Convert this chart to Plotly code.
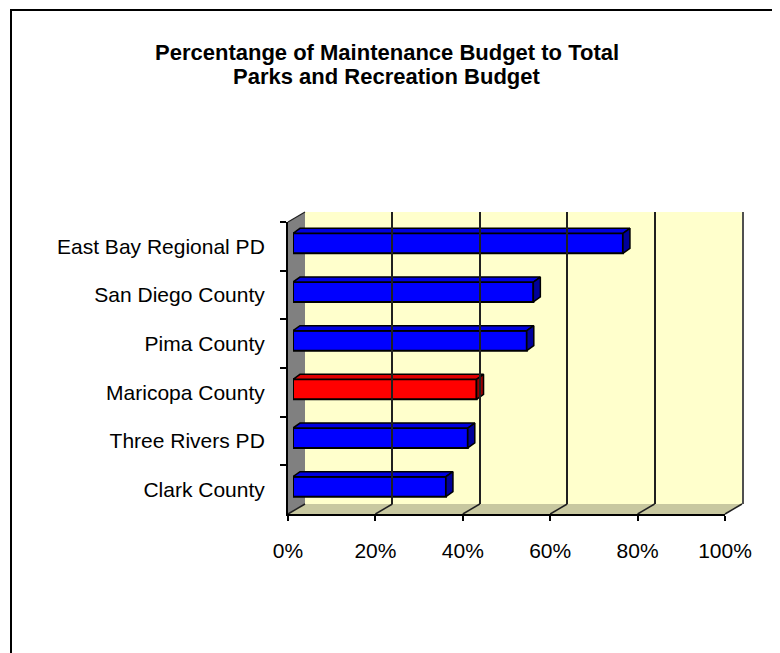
import plotly.graph_objects as go

# ---------------- data ----------------
categories = ["East Bay Regional PD", "San Diego County", "Pima County",
              "Maricopa County", "Three Rivers PD", "Clark County"]
values = [75.5, 55.0, 53.5, 42.0, 40.0, 35.0]   # percent of total budget
highlight = "Maricopa County"
x_ticks = [0, 20, 40, 60, 80, 100]
title_lines = ["Percentange of Maintenance Budget to Total", "Parks and Recreation Budget"]

# ---------------- geometry (pixels, screen space) ----------------
W, H = 780, 653
PAGE = 8                                          # default body margin of the html page
FRONT = dict(x0=288, x1=725, y0=222, y1=514)     # front plane of the 3-D box
DEPTH = (17, -10)                                 # back wall offset
BAR_OFF = (5, -3)                                 # plane of the bars
EXTRUDE = (7, -5)                                 # bar thickness in depth
BAR_W = 0.41
TITLE_Y = [52, 77]

def fx(p):
    return (p - PAGE) / W

def fy(p):
    return 1 - (p - PAGE) / H

def dom_x(off):
    return [fx(FRONT["x0"] + off), fx(FRONT["x1"] + off)]

def dom_y(off):
    return [fy(FRONT["y1"] + off), fy(FRONT["y0"] + off)]

n = len(categories)
idx = list(range(n))
blue, blue_top, blue_side = "#0000FF", "#0000E0", "#00009A"
red, red_top, red_side = "#FF0000", "#E00000", "#9A0000"
face = [red if c == highlight else blue for c in categories]

fig = go.Figure()

# front faces of bars
fig.add_trace(go.Bar(
    x=values, y=idx, orientation="h", width=BAR_W,
    marker=dict(color=face, line=dict(color="black", width=2)),
    xaxis="x", yaxis="y", hoverinfo="skip", showlegend=False))

# top and side faces computed from values
xrange_px = FRONT["x1"] - FRONT["x0"]
band_px = (FRONT["y1"] - FRONT["y0"]) / n
dxd = EXTRUDE[0] / xrange_px * 100
dyd = -EXTRUDE[1] / band_px
h = BAR_W / 2
for i, (c, v) in enumerate(zip(categories, values)):
    is_hl = c == highlight
    top_c = red_top if is_hl else blue_top
    side_c = red_side if is_hl else blue_side
    fig.add_trace(go.Scatter(
        x=[0, v, v + dxd, dxd, 0], y=[i - h, i - h, i - h - dyd, i - h - dyd, i - h],
        fill="toself", fillcolor=top_c, mode="lines",
        line=dict(color="black", width=1.5), xaxis="x", yaxis="y",
        hoverinfo="skip", showlegend=False))
    fig.add_trace(go.Scatter(
        x=[v, v + dxd, v + dxd, v, v], y=[i - h, i - h - dyd, i + h - dyd, i + h, i - h],
        fill="toself", fillcolor=side_c, mode="lines",
        line=dict(color="black", width=1.5), xaxis="x", yaxis="y",
        hoverinfo="skip", showlegend=False))

# invisible traces to materialise back wall and front axes
fig.add_trace(go.Scatter(x=[0], y=[0], mode="markers", opacity=0,
                         xaxis="x2", yaxis="y2", hoverinfo="skip", showlegend=False))
fig.add_trace(go.Scatter(x=[0] * n, y=categories, mode="markers", opacity=0,
                         xaxis="x3", yaxis="y3", hoverinfo="skip", showlegend=False))

font = "Liberation Sans, Arial, sans-serif"

# ---------------- walls (shapes in pixel space) ----------------
bx0, by0 = FRONT["x0"] + DEPTH[0], FRONT["y0"] + DEPTH[1]
bx1, by1 = FRONT["x1"] + DEPTH[0], FRONT["y1"] + DEPTH[1]
shapes = []
# back wall
shapes.append(dict(type="rect", xref="paper", yref="paper", layer="below",
                   x0=fx(bx0), x1=fx(bx1), y0=fy(by1), y1=fy(by0),
                   fillcolor="#FFFFCC", line=dict(width=0)))
# floor
shapes.append(dict(type="path", xref="paper", yref="paper", layer="below",
                   path=f"M {fx(FRONT['x0'])},{fy(FRONT['y1'])} L {fx(bx0)},{fy(by1)} "
                        f"L {fx(bx1)},{fy(by1)} L {fx(FRONT['x1'])},{fy(FRONT['y1'])} Z",
                   fillcolor="#C8C8A0", line=dict(width=0)))
# left wall
shapes.append(dict(type="path", xref="paper", yref="paper", layer="below",
                   path=f"M {fx(FRONT['x0'])},{fy(FRONT['y0'])} L {fx(bx0)},{fy(by0)} "
                        f"L {fx(bx0)},{fy(by1)} L {fx(FRONT['x0'])},{fy(FRONT['y1'])} Z",
                   fillcolor="#808080", line=dict(width=0)))
# left wall top edge
shapes.append(dict(type="line", xref="paper", yref="paper", layer="above",
                   x0=fx(FRONT["x0"]), y0=fy(FRONT["y0"]), x1=fx(bx0), y1=fy(by0),
                   line=dict(color="#202020", width=1.2)))
# floor depth lines at each tick
for t in x_ticks:
    xf = FRONT["x0"] + t / 100 * xrange_px
    shapes.append(dict(type="line", xref="paper", yref="paper", layer="below",
                       x0=fx(xf), y0=fy(FRONT["y1"]), x1=fx(xf + DEPTH[0]), y1=fy(by1),
                       line=dict(color="#202020", width=1.5)))
# outer frame
shapes.append(dict(type="rect", xref="paper", yref="paper", layer="above",
                   x0=fx(11), y0=fy(H + 40), x1=fx(W + 40), y1=fy(10),
                   line=dict(color="black", width=2), fillcolor="rgba(0,0,0,0)"))

hidden = dict(showgrid=False, zeroline=False, showticklabels=False, showline=False,
              ticks="", automargin=False)

fig.update_layout(
    template="none",
    width=W, height=H, autosize=False,
    margin=dict(l=0, r=0, t=0, b=0, pad=0),
    paper_bgcolor="white", plot_bgcolor="rgba(0,0,0,0)",
    font=dict(family=font, color="black", size=20),
    shapes=shapes,
    # bar plane
    xaxis=dict(domain=dom_x(BAR_OFF[0]), range=[0, 100], anchor="y", **hidden),
    yaxis=dict(domain=dom_y(BAR_OFF[1]), range=[n - 0.5, -0.5], anchor="x", **hidden),
    # back wall grid
    xaxis2=dict(domain=dom_x(DEPTH[0]), range=[0, 100], anchor="y2", tickvals=x_ticks,
                showgrid=True, gridcolor="#202020", gridwidth=1.5, zeroline=False,
                showticklabels=False, showline=False, ticks="", automargin=False),
    yaxis2=dict(domain=dom_y(DEPTH[1]), range=[0, 1], anchor="x2", side="right",
                showline=True, linecolor="#505050", linewidth=1.5,
                showgrid=False, zeroline=False, showticklabels=False, ticks="",
                automargin=False),
    # front axes with labels
    xaxis3=dict(domain=dom_x(0), range=[0, 100], anchor="y3", tickvals=x_ticks,
                ticktext=[f"{t}%" for t in x_ticks], automargin=False,
                showgrid=False, zeroline=False, showline=True, linecolor="black",
                linewidth=2, ticks="outside", ticklen=5, tickwidth=2, tickcolor="black",
                ticklabelstandoff=12, tickfont=dict(size=21, family=font, color="black")),
    yaxis3=dict(domain=dom_y(0), type="category", categoryorder="array",
                categoryarray=categories, range=[n - 0.5, -0.5], anchor="x3",
                automargin=False,
                showgrid=False, zeroline=False, showline=True, linecolor="black",
                linewidth=2, ticks="outside", ticklen=6, tickwidth=2, tickcolor="black",
                tickson="boundaries", ticklabelstandoff=17,
                tickfont=dict(size=21, family=font, color="black")),
    annotations=[dict(text=f"<b>{line}</b>",
                      xref="paper", yref="paper", x=fx(387), y=fy(ty),
                      xanchor="center", yanchor="middle", showarrow=False,
                      font=dict(size=22, family=font, color="black"))
                 for line, ty in zip(title_lines, TITLE_Y)],
)

fig.write_html("out.html")
